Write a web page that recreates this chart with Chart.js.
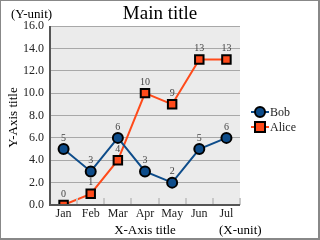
<!DOCTYPE html>
<html>
<head>
<meta charset="utf-8">
<script src="https://cdn.jsdelivr.net/npm/chart.js@4/dist/chart.umd.min.js"></script>
<style>
  html, body { margin: 0; padding: 0; background: #fff; }
  #wrap { width: 320px; height: 240px; position: relative; }
</style>
</head>
<body>
<div id="wrap"><canvas id="chart" width="320" height="240"></canvas></div>
<script>
// chart data
const months = ["Jan", "Feb", "Mar", "Apr", "May", "Jun", "Jul"];
const bobValues = [5, 3, 6, 3, 2, 5, 6];
const aliceValues = [0, 1, 4, 10, 9, 13, 13];
const yTicks = [0, 2, 4, 6, 8, 10, 12, 14, 16];

const serif = "'Liberation Serif', 'DejaVu Serif', serif";

// background, tick marks, data labels, titles, legend
const decorations = {
    id: "decorations",
    beforeDraw(chart) {
        const c = chart.ctx, a = chart.chartArea;
        c.save();
        c.fillStyle = "#ebebeb";
        c.fillRect(a.left, a.top, a.right - a.left, a.bottom - a.top);
        c.restore();
    },
    afterDraw(chart) {
        const c = chart.ctx, a = chart.chartArea;
        const x = chart.scales.x;
        const midX = (a.left + a.right) / 2, midY = (a.top + a.bottom) / 2;
        c.save();

        // small category boundary marks
        c.strokeStyle = "#c8c8c8";
        c.lineWidth = 2;
        const step = x.getPixelForValue(1) - x.getPixelForValue(0);
        for (let i = 0; i < months.length; i++) {
            const px = Math.round(x.getPixelForValue(i) + step / 2);
            c.beginPath();
            c.moveTo(px, a.bottom);
            c.lineTo(px, a.bottom - 7);
            c.stroke();
        }

        // axis lines
        c.strokeStyle = "#555";
        c.lineWidth = 2;
        c.beginPath();
        c.moveTo(a.left, a.top);
        c.lineTo(a.left, a.bottom);
        c.lineTo(a.right, a.bottom);
        c.stroke();

        // data labels
        c.fillStyle = "#444";
        c.font = "10px " + serif;
        c.textAlign = "center";
        c.textBaseline = "bottom";
        chart.data.datasets.forEach(function(ds, di) {
            chart.getDatasetMeta(di).data.forEach(function(pt, i) {
                c.fillText(String(ds.data[i]), pt.x, pt.y - 6);
            });
        });

        // titles
        c.fillStyle = "#000";
        c.textBaseline = "middle";
        c.font = "19px " + serif;
        c.fillText("Main title", 160, 14);
        c.font = "13px " + serif;
        c.textAlign = "left";
        c.fillText("(Y-unit)", 11, 15);
        c.fillText("(X-unit)", 219, 231);
        c.textAlign = "center";
        c.fillText("X-Axis title", midX, 231);
        c.save();
        c.translate(14, midY + 2);
        c.rotate(-Math.PI / 2);
        c.fillText("Y-Axis title", 0, 0);
        c.restore();

        // legend
        c.font = "12px " + serif;
        c.textAlign = "left";
        chart.data.datasets.forEach(function(ds, di) {
            const ly = 112 + di * 15;
            c.strokeStyle = ds.borderColor;
            c.lineWidth = 2;
            c.beginPath();
            c.moveTo(251, ly);
            c.lineTo(269, ly);
            c.stroke();
            c.fillStyle = ds.pointBackgroundColor;
            c.strokeStyle = "#000";
            c.lineWidth = 2;
            c.beginPath();
            if (ds.pointStyle === "rect") {
                c.rect(255, ly - 5, 10, 10);
            } else {
                c.arc(260, ly, 5, 0, Math.PI * 2);
            }
            c.fill();
            c.stroke();
            c.fillStyle = "#222";
            c.fillText(ds.label, 270, ly + 1);
        });

        // outer frame
        c.strokeStyle = "#888";
        c.lineWidth = 2;
        c.strokeRect(0, 0, 319, 239);
        c.restore();
    }
};

new Chart(document.getElementById("chart"), {
    type: "line",
    data: {
        labels: months,
        datasets: [{
            label: "Bob",
            data: bobValues,
            borderColor: "#0d4c8a",
            borderWidth: 2,
            pointStyle: "circle",
            pointRadius: 5,
            pointBackgroundColor: "#0d4c8a",
            pointBorderColor: "#000",
            pointBorderWidth: 2,
            tension: 0
        }, {
            label: "Alice",
            data: aliceValues,
            borderColor: "#ff4a1a",
            borderWidth: 2,
            pointStyle: "rect",
            pointRadius: 6,
            pointBackgroundColor: "#ff4a1a",
            pointBorderColor: "#000",
            pointBorderWidth: 2,
            tension: 0
        }]
    },
    options: {
        responsive: false,
        animation: false,
        layout: { padding: { left: 0, top: 26, right: 80, bottom: 0 } },
        plugins: {
            legend: { display: false },
            title: { display: false },
            tooltip: { enabled: false }
        },
        scales: {
            x: {
                offset: true,
                afterFit: function(s) { s.height = 35; },
                grid: { display: false, drawTicks: false },
                border: { display: false },
                ticks: {
                    color: "#222",
                    font: { family: serif, size: 12 },
                    padding: 2,
                    maxRotation: 0
                }
            },
            y: {
                min: 0,
                max: 16,
                afterFit: function(s) { s.width = 50; },
                afterBuildTicks: function(s) { s.ticks = yTicks.map(function(v) { return { value: v }; }); },
                grid: { color: "#a8a8a8", lineWidth: 1, drawTicks: false },
                border: { display: false },
                ticks: {
                    color: "#222",
                    font: { family: serif, size: 12 },
                    padding: 6,
                    callback: function(v) { return Number(v).toFixed(1); }
                }
            }
        }
    },
    plugins: [decorations]
});
</script>
</body>
</html>
